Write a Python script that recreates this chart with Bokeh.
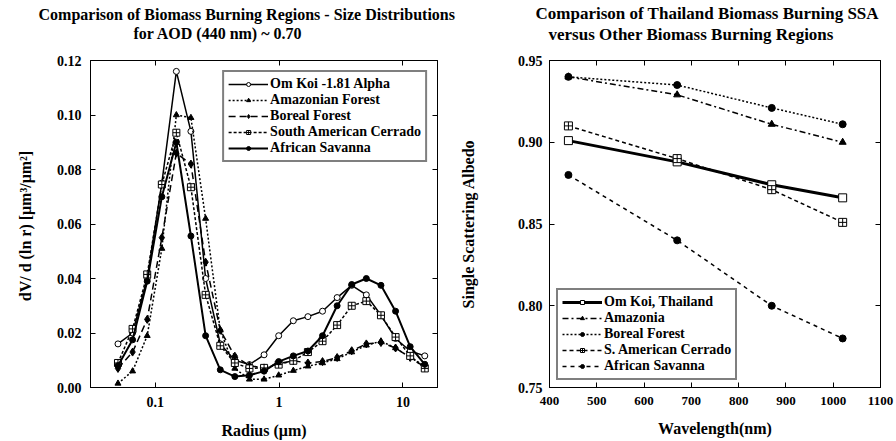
from bokeh.plotting import figure
from bokeh.models import (Range1d, FixedTicker, LinearAxis, LogAxis, Title, Legend,
                          LegendItem, NumeralTickFormatter, CustomJSTickFormatter)
from bokeh.layouts import row
from bokeh.embed import file_html
from bokeh.resources import INLINE

# ---------------- data: size distributions ----------------
radius = [0.05, 0.0656, 0.0861, 0.113, 0.148, 0.194, 0.255, 0.335, 0.439, 0.576, 0.756,
          0.992, 1.302, 1.708, 2.241, 2.940, 3.857, 5.061, 6.641, 8.713, 11.432, 15.0]
omkoi_sd = [0.016, 0.020, 0.040, 0.075, 0.116, 0.094, 0.040, 0.016, 0.010, 0.0084, 0.012,
            0.019, 0.0245, 0.026, 0.028, 0.033, 0.0375, 0.034, 0.0265, 0.018, 0.0134, 0.0116]
amazon_sd = [0.0015, 0.006, 0.019, 0.051, 0.100, 0.099, 0.062, 0.021, 0.007, 0.003, 0.003,
             0.0045, 0.0062, 0.0078, 0.009, 0.0105, 0.013, 0.0155, 0.017, 0.0145, 0.011, 0.008]
boreal_sd = [0.007, 0.013, 0.025, 0.055, 0.086, 0.082, 0.046, 0.021, 0.0115, 0.008, 0.0072,
             0.0088, 0.0098, 0.009, 0.0095, 0.011, 0.0135, 0.016, 0.0165, 0.0145, 0.011, 0.0075]
cerrado_sd = [0.009, 0.0215, 0.0415, 0.0745, 0.0935, 0.0735, 0.034, 0.0153, 0.009, 0.007, 0.0072,
              0.0084, 0.0098, 0.013, 0.017, 0.0229, 0.030, 0.0317, 0.0265, 0.0185, 0.0116, 0.007]
savanna_sd = [0.008, 0.0175, 0.039, 0.070, 0.090, 0.0556, 0.019, 0.0065, 0.004, 0.0045, 0.006,
              0.0095, 0.0116, 0.0134, 0.019, 0.030, 0.0378, 0.040, 0.0375, 0.028, 0.015, 0.0085]
sd_labels = ["Om Koi -1.81 Alpha", "Amazonian Forest", "Boreal Forest",
             "South American Cerrado", "African Savanna"]
radius_ticks = [0.1, 1, 10]
sd_yticks = [0.0, 0.02, 0.04, 0.06, 0.08, 0.10, 0.12]
sd_title = ["Comparison of Biomass Burning Regions - Size Distributions",
            "for AOD (440 nm) ~ 0.70"]

# ---------------- data: single scattering albedo ----------------
wavelength = [440, 670, 870, 1020]
omkoi_ssa = [0.901, 0.888, 0.874, 0.866]
amazonia_ssa = [0.940, 0.929, 0.911, 0.900]
boreal_ssa = [0.940, 0.935, 0.921, 0.911]
cerrado_ssa = [0.910, 0.890, 0.871, 0.851]
savanna_ssa = [0.880, 0.840, 0.800, 0.780]
ssa_labels = ["Om Koi, Thailand", "Amazonia", "Boreal Forest",
              "S. American Cerrado", "African Savanna"]
wl_ticks = [400, 500, 600, 700, 800, 900, 1000, 1100]
ssa_yticks = [0.75, 0.80, 0.85, 0.90, 0.95]
ssa_title = ["Comparison of Thailand Biomass Burning SSA",
             "versus Other Biomass Burning Regions"]

FONT = "'Liberation Serif', serif"


def style_axis(ax, tick_size="14px", show_labels=True):
    ax.major_tick_in = 5
    ax.major_tick_out = 0
    ax.minor_tick_in = 0
    ax.minor_tick_out = 0
    ax.axis_line_color = "black"
    ax.major_tick_line_color = "black"
    ax.major_label_text_font = FONT
    ax.major_label_text_font_style = "bold"
    ax.major_label_text_font_size = tick_size if show_labels else "1px"
    ax.major_label_text_color = "black" if show_labels else None
    ax.axis_label_text_font = FONT
    ax.axis_label_text_font_style = "bold"
    ax.axis_label_text_font_size = "16px"
    ax.axis_label_text_color = "black"


def add_titles(p, lines, offsets, size, gap):
    # spacer next to the frame, then the title lines stacked outward
    p.add_layout(Title(text=" ", text_font=FONT, text_font_size="10px", standoff=gap), "above")
    for txt, off in reversed(list(zip(lines, offsets))):
        p.add_layout(Title(text=txt, align="left", offset=off, standoff=0,
                           text_font=FONT, text_font_size=size, text_font_style="bold",
                           text_color="black"), "above")


def legend_for(items, loc, margin, size):
    return Legend(items=items, location=loc, glyph_width=40, glyph_height=10,
                  label_height=10, spacing=-3, padding=4, margin=margin, label_standoff=2,
                  label_text_font=FONT, label_text_font_style="bold",
                  label_text_font_size=size,
                  label_text_color="black", border_line_color="black", border_line_width=2,
                  background_fill_alpha=1.0)


# ================= left figure =================
p1 = figure(width=456, height=441, x_axis_type="log", output_backend="svg",
            toolbar_location=None, x_range=Range1d(0.03, 19), y_range=Range1d(0, 0.12),
            min_border_left=90, min_border_right=19, min_border_top=60, min_border_bottom=51)
p1.title.visible = False
p1.xgrid.visible = False
p1.ygrid.visible = False
p1.outline_line_color = "black"

p1.xaxis.ticker = FixedTicker(ticks=radius_ticks, minor_ticks=[])
p1.xaxis.formatter = CustomJSTickFormatter(code="return tick.toString();")
p1.yaxis.ticker = FixedTicker(ticks=sd_yticks, minor_ticks=[])
p1.yaxis.formatter = NumeralTickFormatter(format="0.00")
p1.xaxis.axis_label = "Radius (μm)"
p1.yaxis.axis_label = "dV/ d (ln r)  [μm³/μm²]"
for ax in list(p1.xaxis) + list(p1.yaxis):
    style_axis(ax)
p1.xaxis.major_label_standoff = 9
p1.xaxis.axis_label_standoff = 12
p1.yaxis.major_label_standoff = 9
p1.yaxis.axis_label_standoff = 20

top1 = LogAxis(ticker=FixedTicker(ticks=radius_ticks, minor_ticks=[]),
               formatter=CustomJSTickFormatter(code="return tick.toString();"))
right1 = LinearAxis(ticker=FixedTicker(ticks=sd_yticks, minor_ticks=[]))
for ax in (top1, right1):
    style_axis(ax, show_labels=False)
    ax.major_label_standoff = 0
    ax.axis_label_standoff = 0
p1.add_layout(top1, "above")
p1.add_layout(right1, "right")
add_titles(p1, sd_title, [-52, 43], "16px", 6)

sd_series = [
    (omkoi_sd, dict(line_width=1.5, line_dash="solid"), dict(marker="circle", size=6, fill_color="white")),
    (amazon_sd, dict(line_width=1.5, line_dash="2 2"), dict(marker="triangle", size=6, fill_color="black")),
    (boreal_sd, dict(line_width=1.5, line_dash="7 4"), dict(marker="diamond", size=8, fill_color="black")),
    (cerrado_sd, dict(line_width=1.5, line_dash="3 2"), dict(marker="square_cross", size=7, fill_color="white")),
    (savanna_sd, dict(line_width=2.0, line_dash="solid"), dict(marker="circle", size=6, fill_color="black")),
]
items1 = []
for s, lab in zip(sd_series, sd_labels):
    vals, lkw, mkw = s
    r_line = p1.line(radius, vals, line_color="black", **lkw)
    r_mark = p1.scatter(radius, vals, line_color="black", line_width=1, **mkw)
    items1.append(LegendItem(label=lab, renderers=[r_line, r_mark]))
p1.add_layout(legend_for(items1, "top_right", 10, "14px"), "center")

# ================= right figure =================
p2 = figure(width=440, height=441, output_backend="svg", toolbar_location=None,
            x_range=Range1d(400, 1100), y_range=Range1d(0.75, 0.95),
            min_border_left=93, min_border_right=16, min_border_top=58, min_border_bottom=54)
p2.title.visible = False
p2.xgrid.visible = False
p2.ygrid.visible = False
p2.outline_line_color = "black"
p2.xaxis.ticker = FixedTicker(ticks=wl_ticks, minor_ticks=[])
p2.yaxis.ticker = FixedTicker(ticks=ssa_yticks, minor_ticks=[])
p2.yaxis.formatter = NumeralTickFormatter(format="0.00")
p2.xaxis.axis_label = "Wavelength(nm)"
p2.yaxis.axis_label = "Single Scattering Albedo"
for ax in p2.xaxis:
    style_axis(ax, tick_size="13px")
for ax in p2.yaxis:
    style_axis(ax, tick_size="14px")
p2.xaxis.major_label_standoff = 9
p2.xaxis.axis_label_standoff = 12
p2.yaxis.major_label_standoff = 7
p2.yaxis.axis_label_standoff = 38

top2 = LinearAxis(ticker=FixedTicker(ticks=wl_ticks, minor_ticks=[]))
right2 = LinearAxis(ticker=FixedTicker(ticks=ssa_yticks, minor_ticks=[]),
                    formatter=NumeralTickFormatter(format="0"))
for ax in (top2, right2):
    style_axis(ax, show_labels=False)
    ax.major_label_standoff = 0
    ax.axis_label_standoff = 0
p2.add_layout(top2, "above")
p2.add_layout(right2, "right")
add_titles(p2, ssa_title, [-14, -1], "17px", 4)

ssa_series = [
    (omkoi_ssa, dict(line_width=3.0, line_dash="solid"), dict(marker="square", size=8, fill_color="white")),
    (amazonia_ssa, dict(line_width=1.5, line_dash="6 3 2 3"), dict(marker="triangle", size=7, fill_color="black")),
    (boreal_ssa, dict(line_width=1.5, line_dash="2 2"), dict(marker="circle", size=7, fill_color="black")),
    (cerrado_ssa, dict(line_width=1.5, line_dash="4 3"), dict(marker="square_cross", size=8, fill_color="white")),
    (savanna_ssa, dict(line_width=1.5, line_dash="4 4"), dict(marker="circle", size=7, fill_color="black")),
]
items2 = []
for s, lab in zip(ssa_series, ssa_labels):
    vals, lkw, mkw = s
    r_line = p2.line(wavelength, vals, line_color="black", **lkw)
    r_mark = p2.scatter(wavelength, vals, line_color="black", line_width=1, **mkw)
    items2.append(LegendItem(label=lab, renderers=[r_line, r_mark]))
p2.add_layout(legend_for(items2, "bottom_left", 7, "14px"), "center")

layout = row(p1, p2, spacing=0)
open("out.html", "w").write(file_html(layout, INLINE))
